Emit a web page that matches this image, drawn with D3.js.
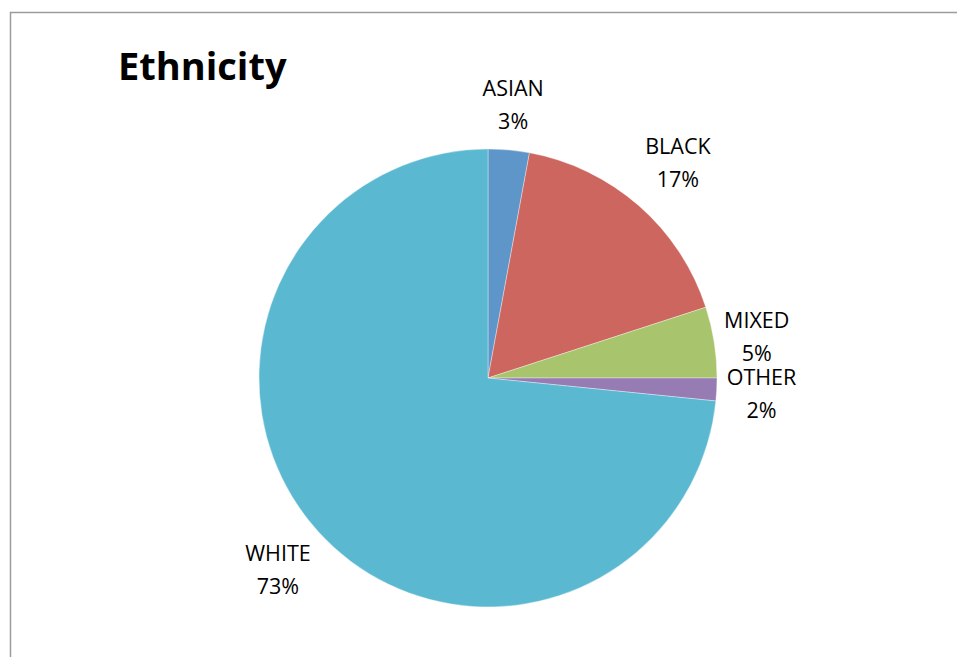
<!DOCTYPE html>
<html>
<head>
<meta charset="utf-8">
<script src="https://cdn.jsdelivr.net/npm/d3@7"></script>
<style>
  html, body { margin: 0; padding: 0; background: #fff; overflow: hidden; }
  svg { display: block; }
</style>
</head>
<body>
<svg id="chart" width="957" height="657"></svg>
<script>
const title = "Ethnicity";
const categories = ["ASIAN", "BLACK", "MIXED", "OTHER", "WHITE"];
const values = [2.9, 17.1, 5.0, 1.6, 73.4];
const percentLabels = ["3%", "17%", "5%", "2%", "73%"];
const colors = ["#5E96CA", "#CC665F", "#A8C46C", "#977CB4", "#5BB8D1"];

const W = 957, H = 657;
const svg = d3.select("#chart");

// chart area frame (only top and left edges visible in the window)
svg.append("rect")
  .attr("x", 10.5).attr("y", 12.5)
  .attr("width", W + 20).attr("height", H + 20)
  .attr("fill", "#fff")
  .attr("stroke", "#9c9c9c")
  .attr("stroke-width", 1.5);

svg.append("text")
  .attr("x", 118).attr("y", 79.5)
  .attr("font-family", "'Open Sans', sans-serif")
  .attr("font-weight", "bold")
  .attr("font-size", 38)
  .attr("fill", "#000")
  .text(title);

const cx = 488, cy = 378, r = 229;
const data = categories.map((c, i) => ({ cat: c, value: values[i], pct: percentLabels[i], color: colors[i] }));

const pie = d3.pie().value(d => d.value).sort(null);
const arc = d3.arc().innerRadius(0).outerRadius(r);
const arcs = pie(data);

const g = svg.append("g").attr("transform", `translate(${cx},${cy})`);
g.selectAll("path.slice")
  .data(arcs)
  .enter().append("path")
  .attr("class", "slice")
  .attr("d", arc)
  .attr("fill", d => d.data.color)
  .attr("stroke", "rgba(255,255,255,0.45)")
  .attr("stroke-width", 0.8);

// labels outside end
const labels = g.selectAll("g.lbl")
  .data(arcs)
  .enter().append("g")
  .attr("class", "lbl");

labels.each(function(d) {
  const sel = d3.select(this);
  const t1 = sel.append("text")
    .attr("text-anchor", "middle")
    .attr("font-family", "'Open Sans', sans-serif")
    .attr("font-size", 21.5)
    .attr("fill", "#000")
    .attr("y", -7)
    .text(d.data.cat);
  const t2 = sel.append("text")
    .attr("text-anchor", "middle")
    .attr("font-family", "'Open Sans', sans-serif")
    .attr("font-size", 21.5)
    .attr("fill", "#000")
    .attr("y", 26)
    .text(d.data.pct);
  const w = Math.max(t1.node().getComputedTextLength(), t2.node().getComputedTextLength());
  const hw = w / 2, hh = 37, gap = 10;
  const a = (d.startAngle + d.endAngle) / 2;
  const sx = Math.abs(Math.sin(a)), sy = Math.abs(Math.cos(a));
  const ext = Math.min(sx > 1e-6 ? hw / sx : Infinity, sy > 1e-6 ? hh / sy : Infinity);
  const dist = r + gap + ext;
  sel.attr("transform", `translate(${dist * Math.sin(a)},${-dist * Math.cos(a)})`);
});
</script>
</body>
</html>
